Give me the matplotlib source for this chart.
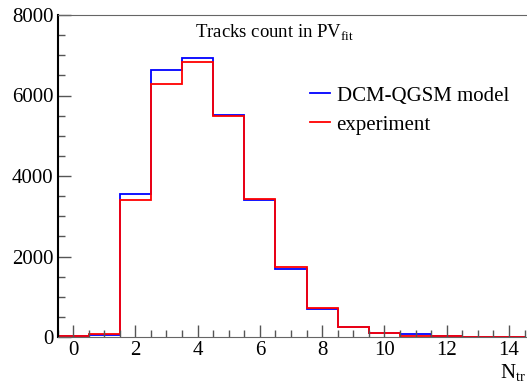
import numpy as np
import matplotlib.pyplot as plt
from matplotlib.ticker import MultipleLocator

plt.rcParams['font.family'] = ['Liberation Serif', 'DejaVu Serif']
plt.rcParams['mathtext.fontset'] = 'custom'
plt.rcParams['mathtext.rm'] = 'Liberation Serif'

# bin centres (number of tracks) and counts
n_tracks = [0, 1, 2, 3, 4, 5, 6, 7, 8, 9, 10, 11, 12, 13, 14]
model_counts = [20, 60, 3550, 6630, 6940, 5515, 3410, 1690, 700, 250, 100, 67, 25, 8, 5]
exp_counts = [20, 75, 3400, 6280, 6820, 5495, 3430, 1745, 720, 256, 107, 32, 25, 8, 5]

edges = np.append(np.array(n_tracks) - 0.5, n_tracks[-1] + 0.5)

fig = plt.figure(figsize=(5.27, 3.85), dpi=100)
ax = fig.add_axes([57.5 / 527, 48 / 385, 1 - 57.5 / 527, 322 / 385])

ax.stairs(model_counts, edges, color='#0000ff', lw=1.3, label='DCM-QGSM model')
ax.stairs(exp_counts, edges, color='#ff0000', lw=1.3, label='experiment')

ax.set_xlim(-0.5, 14.58)
ax.set_ylim(0, 8000)

ax.xaxis.set_major_locator(MultipleLocator(2))
ax.xaxis.set_minor_locator(MultipleLocator(0.5))
ax.yaxis.set_major_locator(MultipleLocator(2000))
ax.yaxis.set_minor_locator(MultipleLocator(500))
ax.tick_params(which='both', direction='in', top=False, right=False,
               colors='#555555', labelcolor='black', labelsize=15, width=1)
ax.tick_params(which='major', length=9, pad=3)
ax.tick_params(which='minor', length=5)

ax.spines['right'].set_visible(False)
ax.spines['left'].set_color('black')
ax.spines['left'].set_linewidth(1.5)
ax.spines['bottom'].set_color('#666666')
ax.spines['top'].set_color('#666666')

ax.text(0.462, 0.975, r'Tracks count in PV$_{\rm fit}$', transform=ax.transAxes,
        ha='center', va='top', fontsize=13.5)
fig.text(0.998, 0.003, r'N$_{\rm tr}$', ha='right', va='bottom', fontsize=15)

ax.legend(loc='upper left', bbox_to_anchor=(0.519, 0.805), frameon=False,
          fontsize=15, handlelength=1.0, handletextpad=0.3, labelspacing=0.45,
          borderaxespad=0)

fig.savefig('out.png', dpi=100)
